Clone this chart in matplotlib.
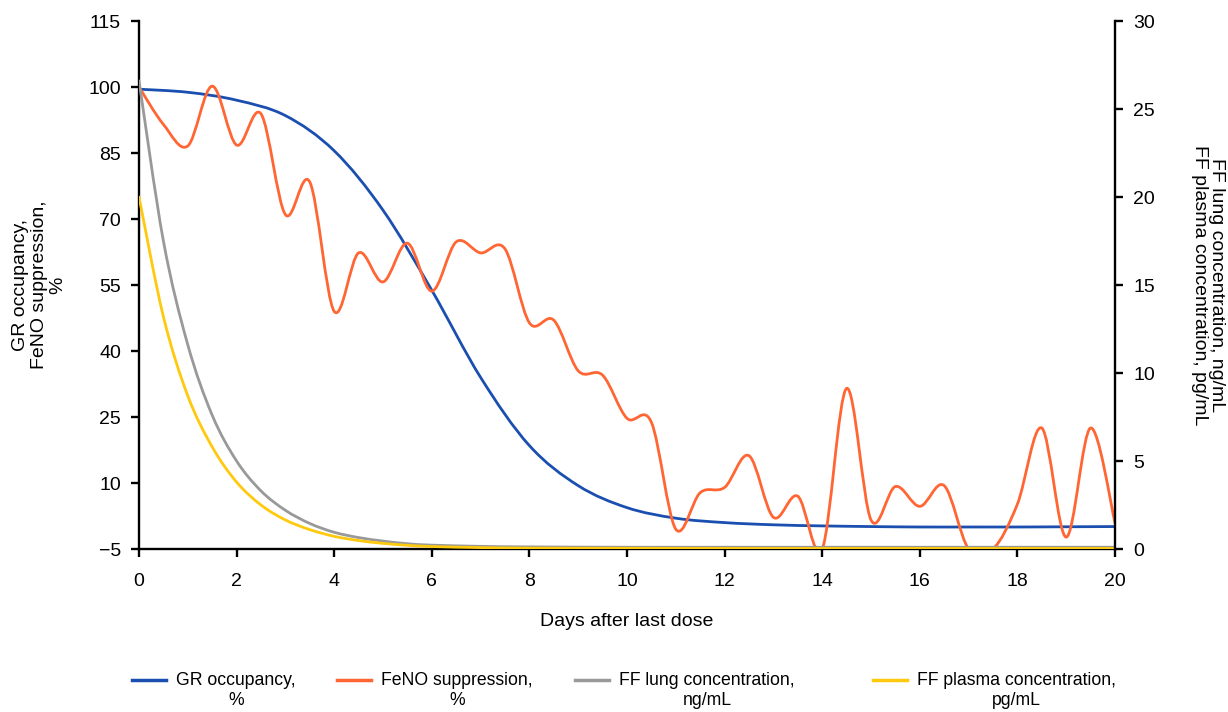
import numpy as np
import matplotlib
matplotlib.use('Agg')
from matplotlib import pyplot as plt
from matplotlib.path import Path
from matplotlib.patches import PathPatch
from matplotlib.lines import Line2D

plt.rcParams['font.family'] = ['Liberation Sans', 'DejaVu Sans']

# values
feno_days = np.arange(0, 20.5, 0.5)
feno = [100, 91.5, 86.6, 100.2, 86.8, 93.9, 71.0, 78.4, 49.0, 62.3,
        55.7, 64.5, 53.6, 64.8, 62.3, 63.2, 46.4, 47.0, 35.5, 34.5,
        24.7, 23.8, -0.5, 7.8, 9.0, 16.2, 2.2, 7.0, -5.0, 31.5,
        1.6, 9.2, 4.7, 9.4, -5.0, -5.0, 5.2, 22.5, -2.3, 22.5, 1.0]

gr_days = np.arange(0, 21, 1)
gr = [99.5, 98.8, 97.0, 93.5, 85.5, 72.0, 53.8, 34.0, 18.5, 9.4,
      4.4, 2.0, 1.0, 0.5, 0.25, 0.1, 0.0, 0.0, 0.0, 0.05, 0.1]

ff_days = [0, 0.5, 1, 1.5, 2, 2.5, 3, 3.5, 4, 4.5, 5, 5.5, 6, 7, 8, 10, 12, 14, 16, 18, 20]
ff_lung = [26.6, 17.5, 11.6, 7.6, 5.0, 3.3, 2.2, 1.45, 0.95, 0.65, 0.45, 0.3, 0.22,
           0.15, 0.12, 0.1, 0.1, 0.1, 0.1, 0.1, 0.1]
ff_plasma = [20.0, 13.2, 8.7, 5.8, 3.8, 2.5, 1.65, 1.1, 0.72, 0.48, 0.32, 0.21, 0.14,
             0.08, 0.05, 0.04, 0.03, 0.03, 0.03, 0.03, 0.03]

labels = ['GR occupancy,\n%', 'FeNO suppression,\n%',
          'FF lung concentration,\nng/mL', 'FF plasma concentration,\npg/mL']
colors = ['#1a4fb0', '#ff6633', '#999999', '#ffc90e']
legend_x = [132, 337, 575, 873]  # handle start, pixels


def smooth_path(x, y):
    # smoothed line through the points, like the spreadsheet "smoothed line" option
    pts = np.column_stack([x, y]).astype(float)
    verts = [pts[0]]
    codes = [Path.MOVETO]
    n = len(pts)
    for i in range(n - 1):
        p0 = pts[i - 1] if i > 0 else pts[i]
        p1 = pts[i]
        p2 = pts[i + 1]
        p3 = pts[i + 2] if i + 2 < n else pts[i + 1]
        verts += [p1 + (p2 - p0) / 6, p2 - (p3 - p1) / 6, p2]
        codes += [Path.CURVE4] * 3
    return Path(verts, codes)


def add_curve(ax, x, y, color):
    ax.add_patch(PathPatch(smooth_path(x, y), fill=False, edgecolor=color,
                           lw=2.0, capstyle='round', joinstyle='round'))


fs = 14
fig = plt.figure(figsize=(12.28, 7.12), dpi=100)
ax = fig.add_axes([139 / 1228, 1 - 549 / 712, 976 / 1228, 528 / 712])
ax2 = ax.twinx()

add_curve(ax, gr_days, gr, colors[0])
add_curve(ax, feno_days, feno, colors[1])
add_curve(ax2, ff_days, ff_lung, colors[2])
add_curve(ax2, ff_days, ff_plasma, colors[3])

ax.set_xlim(0, 20)
ax.set_ylim(-5, 115)
ax2.set_ylim(0, 30)
ax.set_xticks(range(0, 21, 2))
ax.set_yticks(range(-5, 116, 15))
ax2.set_yticks(range(0, 31, 5))

for a in (ax, ax2):
    a.spines['top'].set_visible(False)
    for s in a.spines.values():
        s.set_linewidth(1.7)
    a.tick_params(direction='out', length=6, width=1.7, labelsize=fs, pad=7)
ax.tick_params(axis='x', pad=11)
ax.spines['right'].set_visible(False)
ax2.spines['left'].set_visible(False)
ax2.spines['bottom'].set_visible(False)

ax.set_xlabel('Days after last dose', fontsize=fs, labelpad=17)
fig.text(39 / 1228, 1 - 285 / 712, 'GR occupancy,\nFeNO suppression,\n%', rotation=90,
         ha='center', va='center', multialignment='center', fontsize=fs, linespacing=1.1)
fig.text(1208 / 1228, 1 - 285 / 712, 'FF lung concentration, ng/mL\nFF plasma concentration, pg/mL',
         rotation=270, ha='center', va='center', multialignment='center', fontsize=fs,
         linespacing=1.0)

lfs = 12.7
for lab, c, x in zip(labels, colors, legend_x):
    leg = fig.legend([Line2D([], [], color=c, lw=2.5)], [lab], loc='upper left',
                     bbox_to_anchor=(x / 1228, 1 - 672 / 712), frameon=False, fontsize=lfs,
                     handlelength=1.9, handletextpad=0.6, borderpad=0, borderaxespad=0)
    for t in leg.get_texts():
        t.set_multialignment('center')
    # put the handle level with the first line of the label
    h = leg.legend_handles[0]
    h.set_ydata(np.asarray(h.get_ydata()) + 0.6 * lfs)

fig.savefig('out.png', dpi=100)
